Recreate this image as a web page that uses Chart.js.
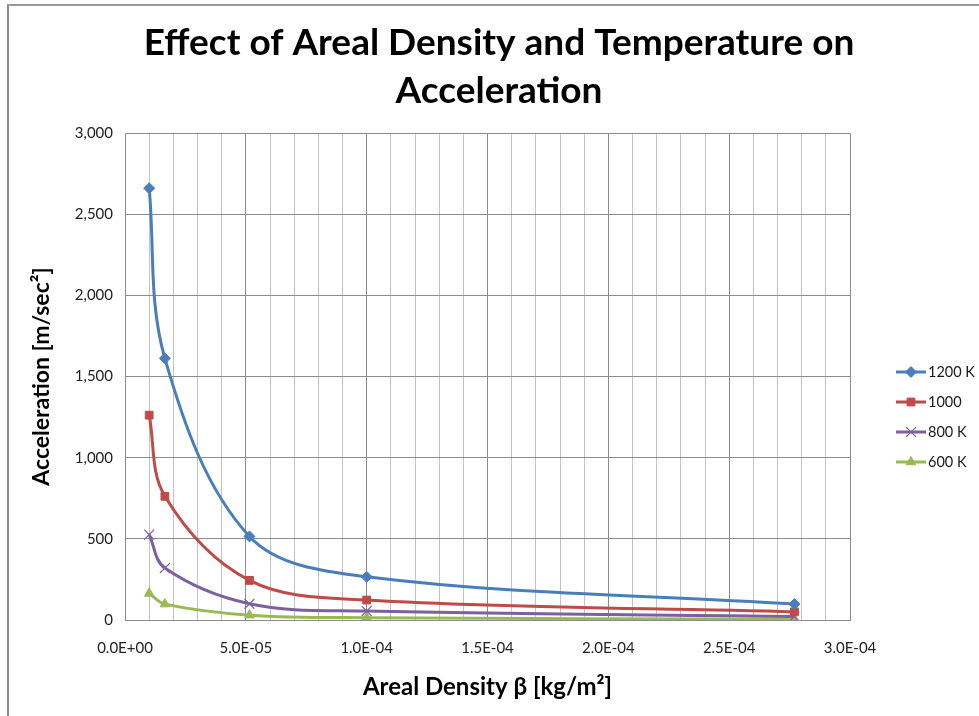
<!DOCTYPE html>
<html lang="en">
<head>
    <meta charset="UTF-8">
    <title>Effect of Areal Density and Temperature on Acceleration</title>
    <script src="https://cdn.jsdelivr.net/npm/chart.js"></script>
    <style>
        body {
            margin: 0;
            background-color: #fff;
        }
        .frame {
            position: absolute;
            left: 7px;
            top: 4px;
            width: 980px;
            height: 720px;
            border-left: 2px solid #8c8c8c;
            border-top: 2px solid #9a9a9a;
        }
        .wrap {
            position: absolute;
            left: 0;
            top: 0;
            width: 979px;
            height: 716px;
        }
    </style>
</head>
<body>
    <div class="frame"></div>
    <div class="wrap">
        <canvas id="accChart" width="979" height="716"></canvas>
    </div>

    <script>
        // data
        const density = [1.0e-5, 1.65e-5, 5.15e-5, 1.0e-4, 2.77e-4];
        const acc1200 = [2660, 1612, 515, 266, 98];
        const acc1000 = [1262, 762, 244, 123, 50];
        const acc800 = [526, 320, 100, 55, 22];
        const acc600 = [164, 98, 30, 14, 5];
        const seriesNames = ['1200 K', '1000', '800 K', '600 K'];
        const seriesColors = ['#4a7ebb', '#be4b48', '#7d60a0', '#98b954'];
        const markerStyles = ['rectRot', 'rect', 'crossRot', 'triangle'];
        const titleLines = ['Effect of Areal Density and Temperature on', 'Acceleration'];

        const FONT = 'Lato, "Liberation Sans", sans-serif';

        function pts(ys) {
            return density.map((x, i) => ({ x: x, y: ys[i] }));
        }

        function sciLabel(v) {
            if (v === 0) return '0.0E+00';
            const exp = Math.floor(Math.log10(Math.abs(v)) + 1e-9);
            const mant = v / Math.pow(10, exp);
            const sign = exp < 0 ? '-' : '+';
            return mant.toFixed(1) + 'E' + sign + String(Math.abs(exp)).padStart(2, '0');
        }

        const allSeries = [acc1200, acc1000, acc800, acc600];
        const datasets = allSeries.map((ys, i) => ({
            label: seriesNames[i],
            data: pts(ys),
            borderColor: seriesColors[i],
            backgroundColor: seriesColors[i],
            borderWidth: 3,
            pointStyle: markerStyles[i],
            pointRadius: markerStyles[i] === 'crossRot' ? 7 : 5.5,
            pointBorderWidth: markerStyles[i] === 'crossRot' ? 1.2 : 1,
            showLine: true,
            tension: 0.35,
            fill: false
        }));

        // chart title + Excel-like legend (line with marker)
        const decorations = {
            id: 'decorations',
            afterDraw(chart) {
                const ctx = chart.ctx;
                ctx.save();
                ctx.fillStyle = '#000';
                ctx.font = 'bold 37px ' + FONT;
                ctx.textAlign = 'center';
                ctx.textBaseline = 'middle';
                titleLines.forEach((t, i) => ctx.fillText(t, 499, 43 + i * 48));

                chart.data.datasets.forEach((ds, i) => {
                    const y = 372 + i * 30;
                    ctx.strokeStyle = ds.borderColor;
                    ctx.lineWidth = 3;
                    ctx.beginPath();
                    ctx.moveTo(896, y);
                    ctx.lineTo(926, y);
                    ctx.stroke();
                    ctx.fillStyle = ds.backgroundColor;
                    ctx.strokeStyle = ds.borderColor;
                    ctx.lineWidth = ds.pointBorderWidth;
                    Chart.helpers.drawPoint(ctx, {
                        pointStyle: ds.pointStyle,
                        radius: ds.pointRadius,
                        borderWidth: ds.pointBorderWidth,
                        rotation: 0
                    }, 911, y);
                    ctx.fillStyle = '#1a1a1a';
                    ctx.font = '14.5px ' + FONT;
                    ctx.textBaseline = 'middle';
                    ctx.textAlign = 'left';
                    ctx.fillText(ds.label, 928, y);
                });
                ctx.restore();
            }
        };

        const config = {
            type: 'scatter',
            data: { datasets: datasets },
            options: {
                responsive: false,
                animation: false,
                layout: {
                    padding: { left: 8, right: 129, top: 133, bottom: 8 }
                },
                plugins: {
                    legend: { display: false },
                    tooltip: { enabled: false }
                },
                scales: {
                    x: {
                        type: 'linear',
                        min: 0,
                        max: 3.0e-4,
                        afterFit(scale) { scale.height = 88; },
                        grid: {
                            drawTicks: false,
                            color: (c) => (c.index % 5 === 0 ? '#8c8c8c' : '#c4c4c4'),
                            lineWidth: 1
                        },
                        border: { color: '#8c8c8c' },
                        ticks: {
                            stepSize: 1e-5,
                            autoSkip: false,
                            maxRotation: 0,
                            padding: 19,
                            color: '#222',
                            font: { family: FONT, size: 15 },
                            callback: (v, i) => (i % 5 === 0 ? sciLabel(i * 1e-5) : '')
                        },
                        title: {
                            display: true,
                            text: 'Areal Density \u03b2 [kg/m\u00b2]',
                            color: '#000',
                            font: { family: FONT, size: 24, weight: 'bold' },
                            padding: { top: 0, bottom: 6 }
                        }
                    },
                    y: {
                        min: 0,
                        max: 3000,
                        afterFit(scale) { scale.width = 117; },
                        grid: {
                            drawTicks: false,
                            color: '#8c8c8c',
                            lineWidth: 1
                        },
                        border: { color: '#8c8c8c' },
                        ticks: {
                            stepSize: 500,
                            padding: 12,
                            color: '#222',
                            font: { family: FONT, size: 15 },
                            callback: (v) => v.toLocaleString('en-US')
                        },
                        title: {
                            display: true,
                            text: 'Acceleration [m/sec\u00b2]',
                            color: '#000',
                            font: { family: FONT, size: 23, weight: 'bold' },
                            padding: { top: 20, bottom: 0 }
                        }
                    }
                }
            },
            plugins: [decorations]
        };

        new Chart(document.getElementById('accChart'), config);
    </script>
</body>
</html>
